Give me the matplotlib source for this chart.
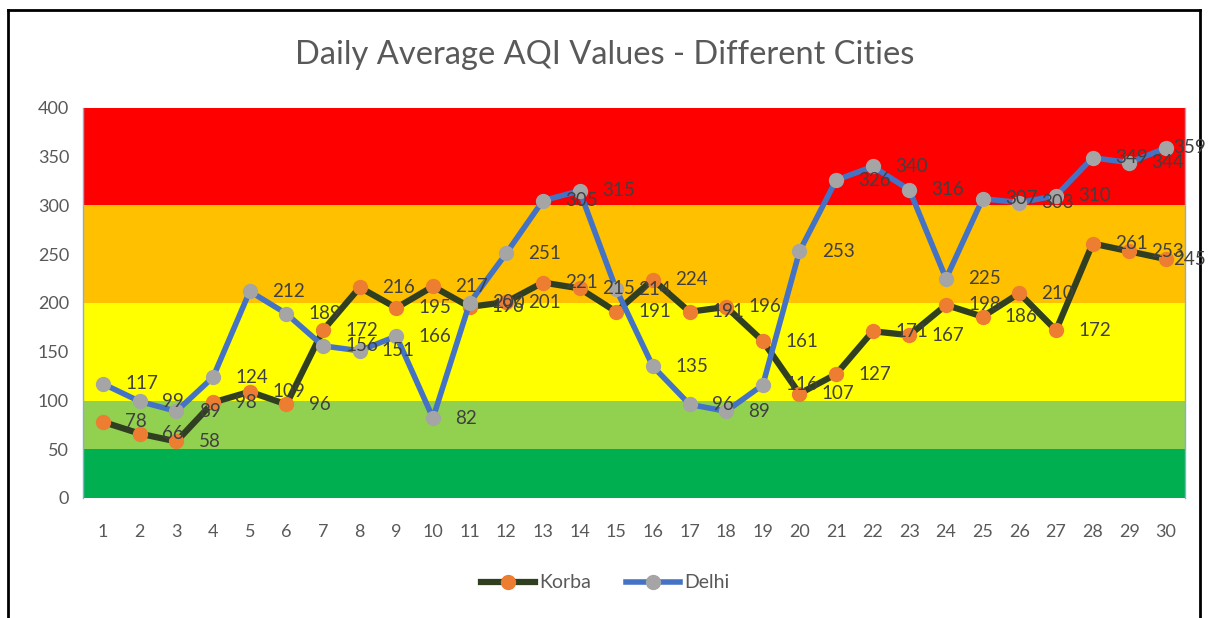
import matplotlib
matplotlib.use("Agg")
from matplotlib import pyplot as plt
from matplotlib.lines import Line2D

plt.rcParams['font.family'] = ['Lato', 'DejaVu Sans']

days = list(range(1, 31))
korba = [78, 66, 58, 98, 109, 96, 172, 216, 195, 217,
         196, 201, 221, 215, 191, 224, 191, 196, 161, 107,
         127, 171, 167, 198, 186, 210, 172, 261, 253, 245]
delhi = [117, 99, 89, 124, 212, 189, 156, 151, 166, 82,
         200, 251, 305, 315, 214, 135, 96, 89, 116, 253,
         326, 340, 316, 225, 307, 303, 310, 349, 344, 359]

# AQI bands (lower, upper, colour)
band_edges = [0, 50, 100, 200, 300, 400]
band_colors = ['#00B050', '#92D050', '#FFFF00', '#FFC000', '#FF0000']

fig = plt.figure(figsize=(12.1, 6.18), dpi=100)
ax = fig.add_axes([83 / 1210, 1 - 498 / 618, (1185 - 83) / 1210, (498 - 108) / 618])

for i, c in enumerate(band_colors):
    ax.axhspan(band_edges[i], band_edges[i + 1], color=c, lw=0, zorder=0)

ax.plot(days, korba, color='#2F3F1F', lw=4.5, marker='o', markersize=10,
        markerfacecolor='#ED7D31', markeredgecolor='#ED7D31', label='Korba', zorder=3)
ax.plot(days, delhi, color='#4472C4', lw=4, marker='o', markersize=10,
        markerfacecolor='#A5A5A5', markeredgecolor='#A5A5A5', label='Delhi', zorder=4)

for series in (korba, delhi):
    for x, y in zip(days, series):
        dx = 16 if x < days[-1] else 5
        ax.annotate(str(y), (x, y), xytext=(dx, 0), textcoords='offset points',
                    ha='left', va='center', fontsize=13.5, color='#404040',
                    zorder=5, annotation_clip=False)

ax.set_xlim(0.45, 30.52)
ax.set_ylim(0, 400)
ax.set_yticks([0, 50, 100, 150, 200, 250, 300, 350, 400])
ax.set_xticks(days)
ax.tick_params(axis='both', length=0, labelsize=13, labelcolor='#595959')
ax.tick_params(axis='x', pad=19)
ax.tick_params(axis='y', pad=10)

for s in ['top', 'bottom']:
    ax.spines[s].set_visible(False)
for s in ['left', 'right']:
    ax.spines[s].set_color('#8EA9DB')
    ax.spines[s].set_linewidth(1)

fig.text(0.5, 1 - 55 / 618, 'Daily Average AQI Values - Different Cities',
         ha='center', va='center', fontsize=23.5, color='#595959')

fig.legend(loc='center', bbox_to_anchor=(0.5, 1 - 583 / 618), ncol=2, frameon=False,
           fontsize=14, labelcolor='#595959', handlelength=2.8, columnspacing=1.8,
           handletextpad=0.2)

# black frame of the screenshot, kept under the plot texts
frame = dict(color='black', lw=2, zorder=-1)
fig.add_artist(Line2D([8 / 1210, 1200 / 1210], [1 - 10 / 618, 1 - 10 / 618], **frame))
fig.add_artist(Line2D([8 / 1210, 8 / 1210], [0, 1 - 10 / 618], **frame))
fig.add_artist(Line2D([1200 / 1210, 1200 / 1210], [0, 1 - 10 / 618], **frame))

fig.savefig('out.png', dpi=100)
